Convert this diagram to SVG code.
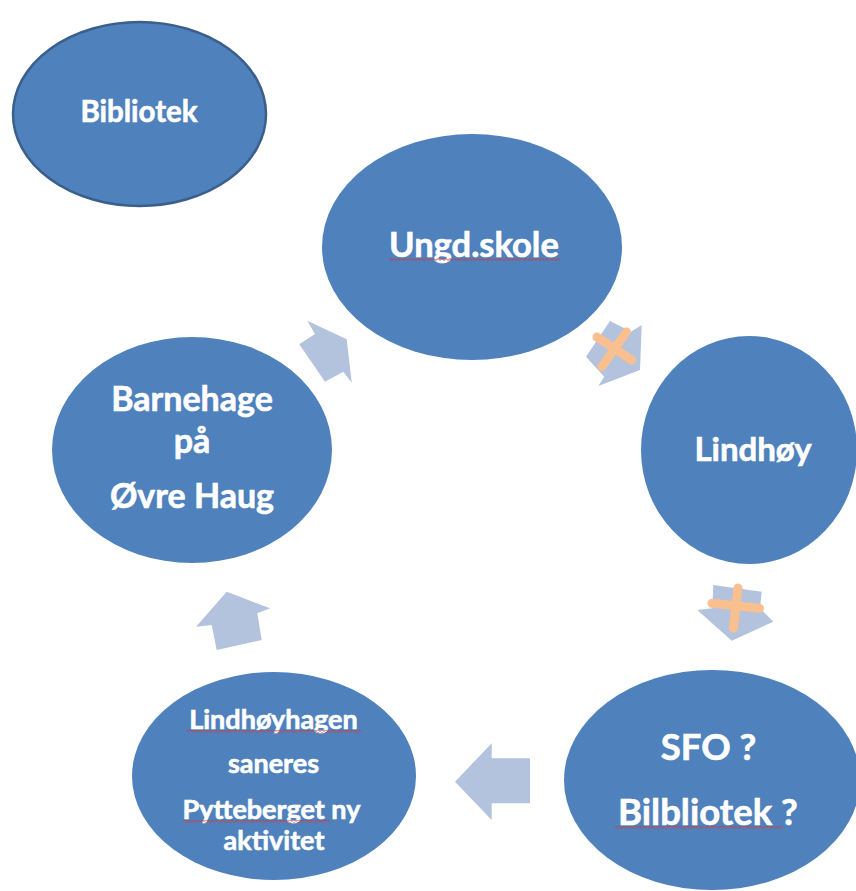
<svg xmlns="http://www.w3.org/2000/svg" width="856" height="891" viewBox="0 0 856 891">
  <defs>
    <pattern id="squiggle" width="4" height="3" patternUnits="userSpaceOnUse">
      <path d="M0,2.4 L2,0.6 L4,2.4" stroke="#d9322f" stroke-width="0.9" fill="none"/>
    </pattern>
    <style>
      .node { fill: #4F81BD; }
      .lbl { fill: #ffffff; stroke: #ffffff; stroke-width: 0.6; font-family: Lato, "Open Sans", "DejaVu Sans", sans-serif; font-weight: bold; text-anchor: middle; }
      .arrow { fill: #B3C2DD; stroke: none; }
      .cross { stroke: #F9BF8F; stroke-width: 9; stroke-linecap: round; fill: none; }
      .sq { fill: url(#squiggle); }
    </style>
  </defs>
  <rect width="856" height="891" fill="#ffffff"/>

  <g id="connectors">
    <polygon class="arrow" points="307.3,320.7 346.7,339.3 351.7,382.7 343.3,371.7 325,381.7 299.3,344.3 315,334"/>
    <g id="arrow-ungd-lindhoy">
      <polygon class="arrow" points="610,321 631,331.7 641.7,325 640,370 598.3,386 604.3,376.7 586,356.7"/>
      <line class="cross" x1="597" y1="337" x2="631.5" y2="360"/>
      <line class="cross" x1="626.5" y1="332" x2="602" y2="366.5"/>
    </g>
    <g id="arrow-lindhoy-sfo">
      <polygon class="arrow" points="713.3,585 761.7,591.7 760,608.3 773.3,621.7 731.7,640.7 697.3,610 712.3,608.3"/>
      <line class="cross" x1="738" y1="588" x2="733.5" y2="628"/>
      <line class="cross" x1="712" y1="603.3" x2="759.5" y2="608.3"/>
    </g>
    <polygon class="arrow" points="455,781.7 491.7,743.3 491.7,758.3 530,758.3 530,803.3 491.7,803.3 491.7,820"/>
    <polygon class="arrow" points="226.7,591.7 270,608.3 257.3,613.3 261.7,640 216.7,650 211.7,625 196,626.7"/>
  </g>

  <g id="bibliotek">
    <ellipse class="node" cx="139.5" cy="114" rx="126.5" ry="92" stroke="#3A5F8C" stroke-width="2.5"/>
    <text class="lbl" x="139" y="122" font-size="29.5">Bibliotek</text>
  </g>

  <g id="ungdskole">
    <ellipse class="node" cx="472" cy="247" rx="150" ry="113"/>
    <text class="lbl" x="474" y="257" font-size="34.5">Ungd.skole</text>
    <rect class="sq" x="389" y="258" width="171" height="3"/>
  </g>

  <g id="lindhoy">
    <ellipse class="node" cx="749" cy="450" rx="108" ry="114"/>
    <text class="lbl" x="753" y="461" font-size="33">Lindhøy</text>
  </g>

  <g id="sfo">
    <ellipse class="node" cx="712" cy="780" rx="148" ry="110"/>
    <text class="lbl" x="708.5" y="760" font-size="36.5">SFO ?</text>
    <text class="lbl" x="708" y="825" font-size="36.5">Bilbliotek ?</text>
    <rect class="sq" x="615" y="826" width="168" height="3"/>
  </g>

  <g id="lindhoyhagen">
    <ellipse class="node" cx="274" cy="776" rx="142" ry="104"/>
    <text class="lbl" x="273.5" y="729" font-size="27">Lindhøyhagen</text>
    <rect class="sq" x="187" y="730" width="174" height="3"/>
    <text class="lbl" x="273.5" y="773" font-size="27">saneres</text>
    <text class="lbl" x="271.5" y="819" font-size="27">Pytteberget ny</text>
    <rect class="sq" x="183" y="820" width="147" height="3"/>
    <text class="lbl" x="274" y="850" font-size="27">aktivitet</text>
  </g>

  <g id="barnehage">
    <ellipse class="node" cx="192" cy="450" rx="140" ry="113"/>
    <text class="lbl" x="192" y="411" font-size="34">Barnehage</text>
    <text class="lbl" x="192" y="453" font-size="34">på</text>
    <text class="lbl" x="192" y="508" font-size="34">Øvre Haug</text>
  </g>
</svg>
